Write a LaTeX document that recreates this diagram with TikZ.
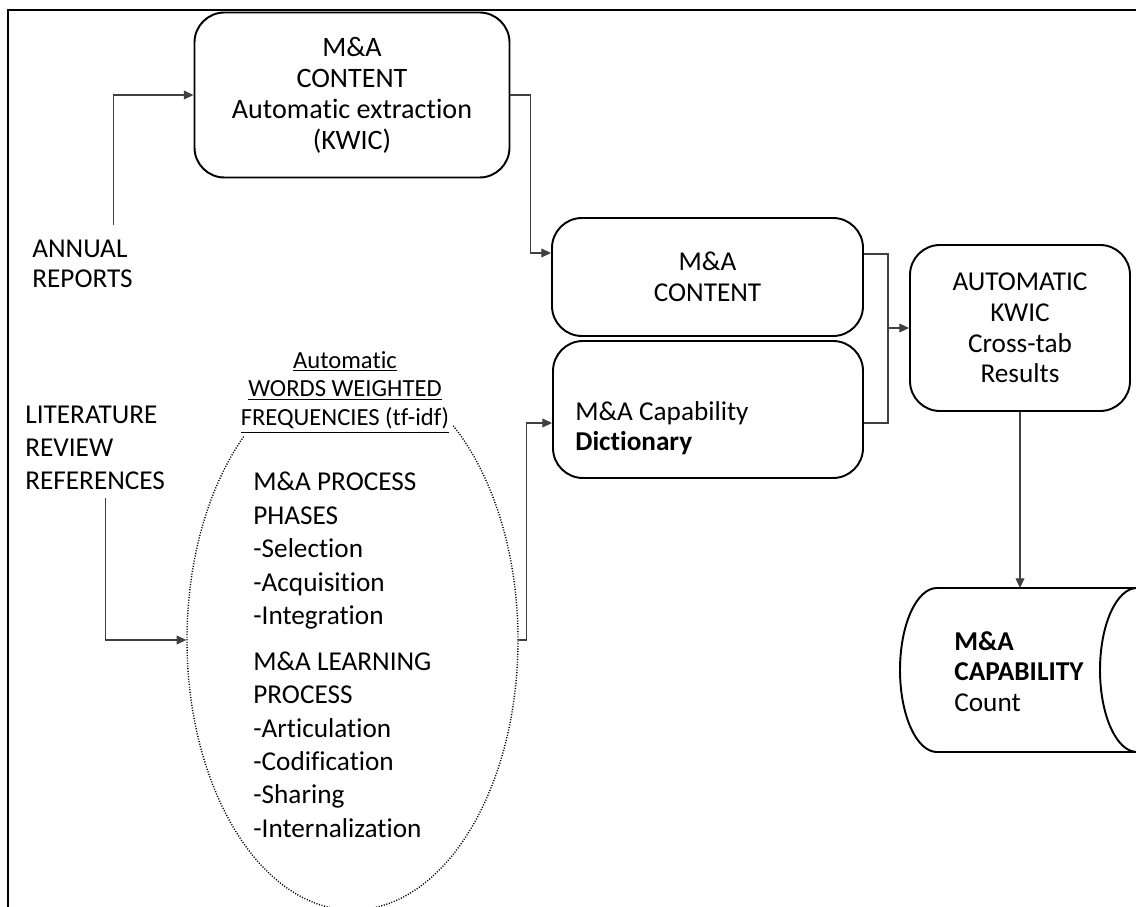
\documentclass[tikz,border=0pt]{standalone}
\usepackage{fontspec}
\setmainfont{Carlito}[RawFeature={-liga;-clig;-calt;-dlig}]
\usetikzlibrary{arrows.meta,shapes.geometric}

\begin{document}
\begin{tikzpicture}[
    box/.style={rectangle, rounded corners=0.6cm, draw, line width=1.1pt, align=center, font=\fontsize{15.5}{17.4}\selectfont},
    freetext/.style={inner sep=0pt, align=left, font=\fontsize{15.5}{17.4}\selectfont},
    drumline/.style={draw, line width=1.1pt},
    arrow/.style={-{Triangle[length=5.5pt,width=5pt]}, line width=0.6pt, black!75},
    link/.style={line width=0.6pt, black!75}
]
    \useasboundingbox (0,0) rectangle (22.72,-18.14);
    \clip (0,0) rectangle (22.72,-18.14);

    % Frame
    \draw[line width=1.1pt] (0.16,-18.2) -- (0.16,-0.2) -- (22.8,-0.2);

    % Sources
    \node[freetext, anchor=west, font=\fontsize{15.5}{17.1}\selectfont] (annual) at (0.64,-5.28) {ANNUAL\\REPORTS};
    \node[freetext, anchor=west, font=\fontsize{15.5}{18.8}\selectfont] (litref) at (0.5,-8.95) {LITERATURE\\REVIEW\\REFERENCES};

    % Boxes
    \node[box, minimum width=6.3cm, minimum height=3.3cm, font=\fontsize{16}{17.6}\selectfont] (kwic) at (7.04,-1.9) {M\&A\\CONTENT\\Automatic extraction\\(KWIC)};
    \node[box, minimum width=6.22cm, minimum height=2.36cm] (content) at (14.15,-5.54) {M\&A\\CONTENT};
    \node[box, minimum width=6.2cm, minimum height=2.74cm] (dict) at (14.16,-8.19) {};
    \node[freetext, anchor=west] (dicttext) at (11.5,-8.56) {M\&A Capability\\\textbf{Dictionary}};
    \node[box, minimum width=4.4cm, minimum height=3.32cm] (auto) at (20.4,-6.56) {AUTOMATIC\\KWIC\\Cross-tab\\Results};

    % Weighted frequencies
    \node[ellipse, draw, line width=0.8pt, dash pattern=on 0.6pt off 0.9pt, minimum width=6.62cm, minimum height=10.8cm] (tfidf) at (7.05,-12.8) {};
    \node[fill=white, inner sep=2pt, align=center, font=\fontsize{14}{16.5}\selectfont] (heading) at (6.9,-7.84) {\underline{Automatic}\\\underline{WORDS WEIGHTED}\\\underline{FREQUENCIES (tf-idf)}};
    \node[freetext, anchor=north west, font=\fontsize{15.5}{19}\selectfont] (phases) at (5.06,-9.44) {M\&A PROCESS\\PHASES\\-Selection\\-Acquisition\\-Integration\\[0.25cm]M\&A LEARNING\\PROCESS\\-Articulation\\-Codification\\-Sharing\\-Internalization};

    % Capability drum
    \coordinate (drumtop) at (20.4,-11.76);
    \draw[drumline] (23.5,-11.76) -- (18.74,-11.76) arc[start angle=90, end angle=270, x radius=0.74cm, y radius=1.64cm] -- (23.5,-15.04);
    \draw[drumline] (22.74,-13.4) ellipse [x radius=0.74cm, y radius=1.64cm];
    \node[freetext, anchor=west] (drum) at (19.08,-13.43) {\textbf{M\&A}\\\textbf{CAPABILITY}\\Count};

    % Connectors
    \draw[arrow] ([xshift=0.62cm,yshift=0.3cm]annual.north) |- (kwic.west);
    \draw[arrow] (kwic.east) -- ++(0.4,0) |- ([yshift=0.48cm]content.west);
    \draw[arrow] ([xshift=0.2cm,yshift=-0.16cm]litref.south) |- (tfidf.west);
    \draw[arrow] (tfidf.east) -- ++(0.16,0) |- ([yshift=-0.27cm]dict.west);
    \draw[link] ([yshift=0.46cm]content.east) -- ++(0.48,0) |- ([yshift=-0.27cm]dict.east);
    \coordinate (merge) at ([xshift=0.48cm]content.east |- auto.west);
    \draw[arrow] (merge) -- (auto.west);
    \draw[arrow] (auto.south) -- (drumtop);
\end{tikzpicture}
\end{document}
